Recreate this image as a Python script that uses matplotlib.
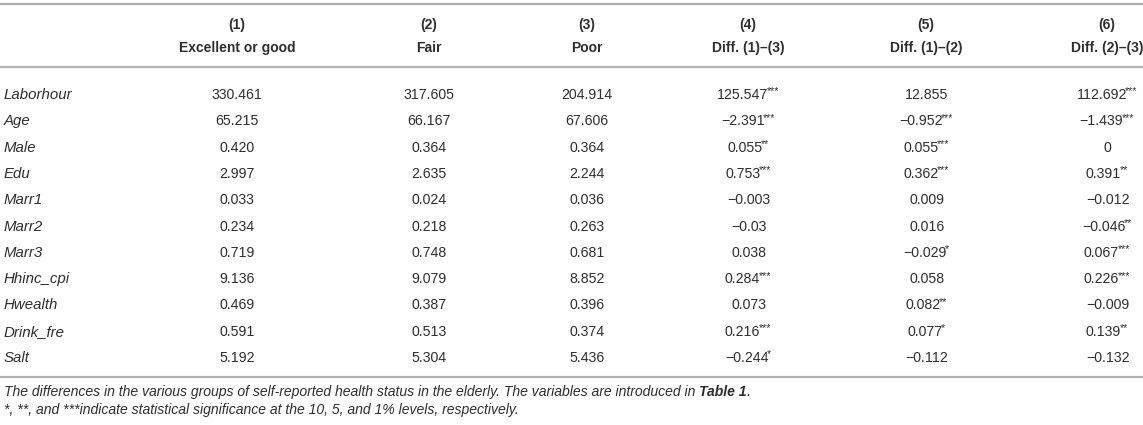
import matplotlib
matplotlib.use("Agg")
import matplotlib.pyplot as plt
from matplotlib.lines import Line2D

plt.rcParams['font.family'] = ['Liberation Sans', 'DejaVu Sans']

col_numbers = ["(1)", "(2)", "(3)", "(4)", "(5)", "(6)"]
col_titles = ["Excellent or good", "Fair", "Poor", "Diff. (1)\u2013(3)", "Diff. (1)\u2013(2)", "Diff. (2)\u2013(3)"]
variables = ["Laborhour", "Age", "Male", "Edu", "Marr1", "Marr2", "Marr3",
             "Hhinc_cpi", "Hwealth", "Drink_fre", "Salt"]
excellent = ["330.461", "65.215", "0.420", "2.997", "0.033", "0.234", "0.719", "9.136", "0.469", "0.591", "5.192"]
fair = ["317.605", "66.167", "0.364", "2.635", "0.024", "0.218", "0.748", "9.079", "0.387", "0.513", "5.304"]
poor = ["204.914", "67.606", "0.364", "2.244", "0.036", "0.263", "0.681", "8.852", "0.396", "0.374", "5.436"]
diff13 = ["125.547", "\u22122.391", "0.055", "0.753", "\u22120.003", "\u22120.03", "0.038", "0.284", "0.073", "0.216", "\u22120.244"]
diff13_sig = ["***", "***", "**", "***", "", "", "", "***", "", "***", "*"]
diff12 = ["12.855", "\u22120.952", "0.055", "0.362", "0.009", "0.016", "\u22120.029", "0.058", "0.082", "0.077", "\u22120.112"]
diff12_sig = ["", "***", "***", "***", "", "", "*", "", "**", "*", ""]
diff23 = ["112.692", "\u22121.439", "0", "0.391", "\u22120.012", "\u22120.046", "0.067", "0.226", "\u22120.009", "0.139", "\u22120.132"]
diff23_sig = ["***", "***", "", "**", "", "**", "***", "***", "", "**", ""]
footnote1 = "The differences in the various groups of self-reported health status in the elderly. The variables are introduced in "
footnote1_bold = "Table 1"
footnote2 = "*, **, and ***indicate statistical significance at the 10, 5, and 1% levels, respectively."

W, H = 1143, 425
fig = plt.figure(figsize=(W / 100, H / 100), dpi=100)
ax = fig.add_axes([0, 0, 1, 1])
ax.set_xlim(0, W)
ax.set_ylim(H, 0)
ax.axis('off')
renderer = fig.canvas.get_renderer()


def text_width(t):
    bb = t.get_window_extent(renderer=renderer)
    return bb.width


col_x = [237, 429, 587, 748, 926, 1107]
row_y0, row_dy = 95, 26.3
fs_head = 10
fs_num = 10.2
fs_lab = 10.8
fs_star = 7.5
fs_foot = 10.1
txt_color = "#2e2e2e"

line_color = "#b0b0b0"
for y in (4, 67, 377):
    ax.add_line(Line2D([0, W], [y, y], color=line_color, lw=1.6))

for x, n, t in zip(col_x, col_numbers, col_titles):
    ax.text(x, 25, n, ha='center', va='center', fontsize=fs_head, fontweight='bold', color=txt_color)
    ax.text(x, 48, t, ha='center', va='center', fontsize=fs_head, fontweight='bold', color=txt_color)

plain_cols = [excellent, fair, poor]
sig_cols = [(diff13, diff13_sig), (diff12, diff12_sig), (diff23, diff23_sig)]
for i, var in enumerate(variables):
    y = row_y0 + i * row_dy
    ax.text(4, y, var, ha='left', va='center', fontsize=fs_lab, style='italic', color=txt_color)
    for j, vals in enumerate(plain_cols):
        ax.text(col_x[j], y, vals[i], ha='center', va='center', fontsize=fs_num, color=txt_color)
    for j, (vals, sigs) in enumerate(sig_cols):
        xc = col_x[j + 3]
        tnum = ax.text(0, y, vals[i], ha='left', va='center', fontsize=fs_num, color=txt_color)
        wn = text_width(tnum) - 1.5
        ws = 0
        tstar = None
        if sigs[i]:
            tstar = ax.text(0, y - 3.5, sigs[i], ha='left', va='center', fontsize=fs_star, color=txt_color)
            ws = text_width(tstar)
        x0 = xc - (wn + ws) / 2
        tnum.set_x(x0)
        if tstar is not None:
            tstar.set_x(x0 + wn)

fy1, fy2 = 392, 410
t1 = ax.text(4, fy1, footnote1, ha='left', va='center', fontsize=fs_foot, style='italic', color=txt_color)
x1 = 4 + text_width(t1)
t2 = ax.text(x1, fy1, footnote1_bold, ha='left', va='center', fontsize=fs_foot, style='italic', fontweight='bold', color=txt_color)
x2 = x1 + text_width(t2)
ax.text(x2, fy1, ".", ha='left', va='center', fontsize=fs_foot, style='italic', color=txt_color)
ax.text(4, fy2, footnote2, ha='left', va='center', fontsize=fs_foot, style='italic', color=txt_color)

fig.savefig("out.png", dpi=100, facecolor='white')
